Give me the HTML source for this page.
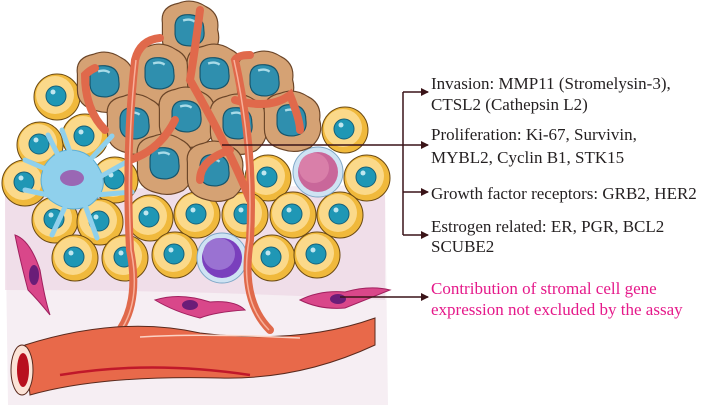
<!DOCTYPE html>
<html><head><meta charset="utf-8"><style>
html,body{margin:0;padding:0;background:#fff;width:705px;height:407px;overflow:hidden}
svg{display:block}
text{font-family:"Liberation Serif",serif;font-size:17px;fill:#231f20}
</style></head><body>
<svg width="705" height="407" viewBox="0 0 705 407" xmlns="http://www.w3.org/2000/svg">
<defs>
<marker id="ah" markerWidth="8" markerHeight="8" refX="7" refY="4" orient="auto" markerUnits="userSpaceOnUse"><path d="M0,0 L8,4 L0,8 z" fill="#3a1418"/></marker>
<g id="yc"><circle r="23" fill="#f0b93c" stroke="#6b4a14" stroke-width="1"/><circle r="19" cx="-2" cy="-2" fill="#fbd98a"/><circle r="10" cx="-1" cy="-1" fill="#1f97b5" stroke="#15607a" stroke-width="1"/><circle r="2.5" cx="-4" cy="-5" fill="#bfe6ef"/></g>
<g id="tc"><g transform="scale(1.15)"><path d="M-24,-8 Q-26,-22 -10,-25 Q2,-30 14,-22 Q26,-16 24,-2 Q28,12 16,22 Q4,28 -8,24 Q-24,20 -24,6 Z" fill="#d5a274" stroke="#6b4528" stroke-width="1"/><path d="M-13,-6 Q-12,-16 0,-15 Q12,-14 12,-2 Q14,10 2,12 Q-12,13 -13,2 Z" fill="#2f8fae" stroke="#16556c" stroke-width="1"/><path d="M-6,-10 Q0,-12 4,-9" stroke="#a8dbe8" stroke-width="2" fill="none"/></g></g>
</defs>
<path d="M5,190 L385,185 L388,405 L8,405 Z" fill="#f6eef3"/>
<path d="M5,190 Q200,185 385,195 L385,300 Q200,290 5,290 Z" fill="#ecd4e2" opacity="0.6"/>
<use href="#yc" x="57" y="97"/><use href="#yc" x="40" y="145"/><use href="#yc" x="85" y="137"/>
<use href="#yc" x="25" y="183"/><use href="#yc" x="115" y="180"/>
<use href="#yc" x="345" y="130"/>
<use href="#yc" x="268" y="178"/><use href="#yc" x="367" y="178"/>
<use href="#yc" x="55" y="220"/><use href="#yc" x="100" y="222"/><use href="#yc" x="150" y="218"/><use href="#yc" x="197" y="215"/><use href="#yc" x="245" y="215"/><use href="#yc" x="293" y="215"/><use href="#yc" x="340" y="215"/>
<use href="#yc" x="75" y="258"/><use href="#yc" x="125" y="258"/><use href="#yc" x="175" y="255"/><use href="#yc" x="272" y="258"/><use href="#yc" x="317" y="255"/>
<circle cx="318" cy="172" r="25" fill="#cfe3f3" stroke="#7ea7c7"/><circle cx="318" cy="172" r="20" fill="#c9679a"/><circle cx="314" cy="168" r="15" fill="#d97fa9"/>
<circle cx="222" cy="258" r="25" fill="#cfe3f3" stroke="#7ea7c7"/><circle cx="222" cy="258" r="20" fill="#7a3fbd"/><circle cx="219" cy="254" r="16" fill="#9a72d2"/>
<use href="#tc" x="105" y="83"/><use href="#tc" x="190" y="32"/><use href="#tc" x="160" y="75"/><use href="#tc" x="215" y="75"/><use href="#tc" x="265" y="82"/>
<use href="#tc" x="135" y="125"/><use href="#tc" x="187" y="118"/><use href="#tc" x="238" y="125"/><use href="#tc" x="292" y="122"/>
<use href="#tc" x="165" y="165"/><use href="#tc" x="215" y="172"/>
<g fill="#8fd0ec" stroke="#5aaed6" stroke-width="1">
<path d="M70,150 Q90,150 100,170 Q110,190 90,205 Q70,215 50,200 Q35,185 45,165 Q55,150 70,150Z"/>
<path d="M70,152 L62,130 M90,160 L112,136 M98,178 L130,160 M95,195 L132,192 M85,205 L97,238 M65,207 L52,235 M48,195 L25,190 M48,170 L25,160 M58,155 L48,135" stroke="#8fd0ec" stroke-width="5" fill="none" stroke-linecap="round"/>
</g>
<ellipse cx="72" cy="178" rx="12" ry="8" fill="#9a67b4"/>
<g fill="none" stroke="#e0694b" stroke-width="8" stroke-linecap="round">
<path d="M120,330 Q140,300 130,250 Q125,150 135,60 Q140,40 160,38"/>
<path d="M270,330 Q240,300 250,240 Q255,150 235,60 Q238,55 250,55"/>
<path d="M250,200 Q230,150 190,80 Q195,50 200,10"/>
<path d="M130,160 Q160,150 175,120"/>
<path d="M200,180 Q200,160 230,150"/>
<path d="M235,100 Q270,110 290,95 Q300,120 300,130"/>
<path d="M105,130 Q85,110 85,75 Q90,70 95,68"/>
</g>
<g fill="none" stroke="#f8b09a" stroke-width="1.5">
<path d="M121,330 Q141,300 131,250 Q126,150 136,60"/>
<path d="M269,330 Q239,300 249,240 Q254,150 234,60"/>
</g>
<g fill="#d9478a" stroke="#a0205e" stroke-width="1">
<path d="M15,235 Q30,240 40,270 Q45,300 50,315 Q38,300 28,290 Q20,260 15,235Z"/>
<path d="M155,300 Q180,292 210,302 Q235,300 245,310 Q215,312 200,318 Q175,312 155,300Z"/>
<path d="M300,300 Q320,290 345,292 Q370,285 390,290 Q370,298 345,308 Q320,310 300,300Z"/>
</g>
<ellipse cx="34" cy="275" rx="5" ry="10" fill="#6a1d78"/>
<ellipse cx="190" cy="305" rx="8" ry="5" fill="#6a1d78"/>
<ellipse cx="338" cy="299" rx="8" ry="5" fill="#6a1d78"/>
<path d="M25,345 Q120,315 200,333 Q300,345 375,318 L375,345 Q300,380 220,378 Q100,375 30,395 Z" fill="#e8694a" stroke="#5a2a1e" stroke-width="1"/>
<path d="M60,375 Q150,360 250,375" stroke="#c0182a" stroke-width="2.5" fill="none"/>
<path d="M140,337 Q200,333 300,338" stroke="#fbd2c4" stroke-width="1.5" fill="none"/>
<ellipse cx="22" cy="370" rx="11" ry="25" fill="#fbe3d7" stroke="#5a2a1e"/>
<ellipse cx="23" cy="370" rx="6" ry="17" fill="#b8101e"/>
<g stroke="#3a1418" stroke-width="1.5" fill="none">
<path d="M403,92 L403,235"/>
<path d="M403,92 L428,92" marker-end="url(#ah)"/>
<path d="M222,145 L428,145" marker-end="url(#ah)"/>
<path d="M403,192 L428,192" marker-end="url(#ah)"/>
<path d="M403,235 L428,235" marker-end="url(#ah)"/>
<path d="M340,297 L428,297" marker-end="url(#ah)"/>
</g>
<text x="431" y="89">Invasion: MMP11 (Stromelysin-3),</text>
<text x="431" y="110">CTSL2 (Cathepsin L2)</text>
<text x="431" y="140">Proliferation: Ki-67, Survivin,</text>
<text x="431" y="163">MYBL2, Cyclin B1, STK15</text>
<text x="431" y="199">Growth factor receptors: GRB2, HER2</text>
<text x="431" y="232">Estrogen related: ER, PGR, BCL2</text>
<text x="431" y="252">SCUBE2</text>
<text x="431" y="294" style="fill:#e5198a">Contribution of stromal cell gene</text>
<text x="431" y="315" style="fill:#e5198a">expression not excluded by the assay</text>
</svg>
</body></html>
